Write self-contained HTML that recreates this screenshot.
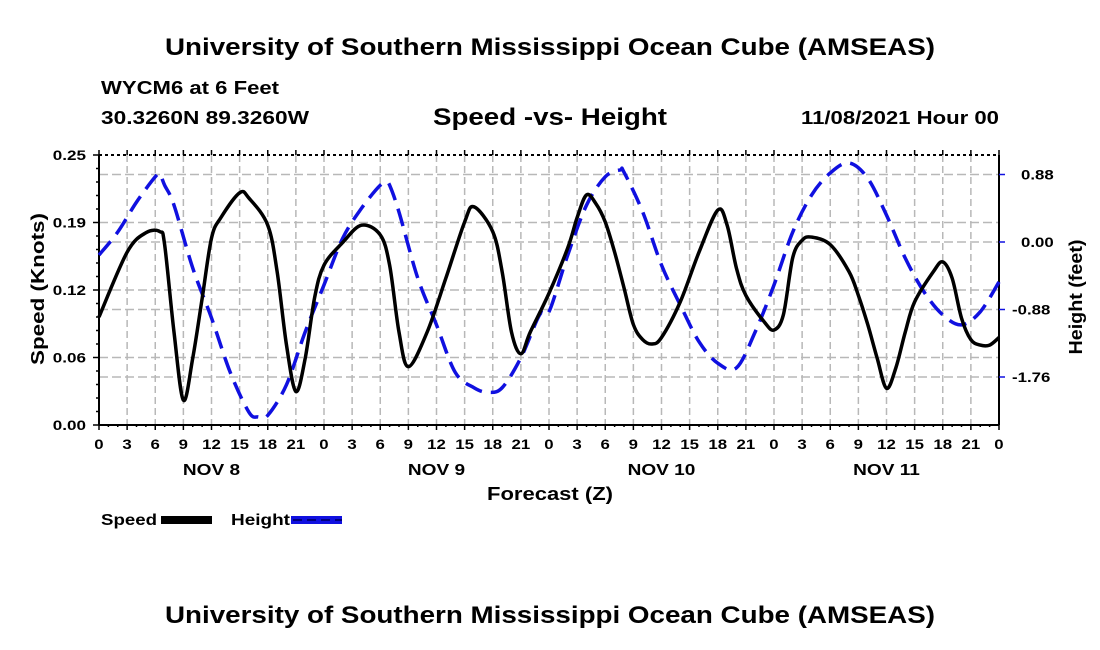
<!DOCTYPE html>
<html><head><meta charset="utf-8"><style>
body{margin:0;background:#fff}
svg{display:block;font-family:"Liberation Sans",Arial,sans-serif;font-weight:bold}
</style></head><body>
<svg id="chart" width="1100" height="650" viewBox="0 0 1100 650">
<text x="550" y="55" text-anchor="middle" font-size="24" textLength="770" lengthAdjust="spacingAndGlyphs">University of Southern Mississippi Ocean Cube (AMSEAS)</text>
<text x="101" y="94" font-size="18" textLength="178" lengthAdjust="spacingAndGlyphs">WYCM6 at 6 Feet</text>
<text x="101" y="124" font-size="18" textLength="208" lengthAdjust="spacingAndGlyphs">30.3260N  89.3260W</text>
<text x="550" y="125" text-anchor="middle" font-size="24" textLength="234" lengthAdjust="spacingAndGlyphs">Speed -vs- Height</text>
<text x="999" y="124" text-anchor="end" font-size="18" textLength="198" lengthAdjust="spacingAndGlyphs">11/08/2021 Hour 00</text>
<g id="grid"></g>
<g id="axes"></g>
<g id="series"></g>
<text x="550" y="500" text-anchor="middle" font-size="18" textLength="126" lengthAdjust="spacingAndGlyphs">Forecast (Z)</text>
<text transform="translate(44,289) rotate(-90)" text-anchor="middle" font-size="18" textLength="152" lengthAdjust="spacingAndGlyphs">Speed (Knots)</text>
<text transform="translate(1082,297) rotate(-90)" text-anchor="middle" font-size="18" textLength="115" lengthAdjust="spacingAndGlyphs">Height (feet)</text>
<g>
<text x="101" y="525" font-size="16" textLength="56" lengthAdjust="spacingAndGlyphs">Speed</text>
<rect x="161" y="516" width="51" height="8" fill="#000"/>
<text x="231" y="525" font-size="16" textLength="59" lengthAdjust="spacingAndGlyphs">Height</text>
<rect x="291" y="516" width="51" height="8" fill="#1010e0"/>
<line x1="293" y1="520" x2="342" y2="520" stroke="#000080" stroke-width="2" stroke-dasharray="9,5"/>
</g>
<text x="550" y="623" text-anchor="middle" font-size="24" textLength="770" lengthAdjust="spacingAndGlyphs">University of Southern Mississippi Ocean Cube (AMSEAS)</text>
</svg>
<script>
const speedHours=[0,3,5,6.5,7,8,9,10,11,12,13,15,16,18,19,20,21,22,23,24,26,28,30,31,32,33,35,37,39,40,42,43,44,45,46,48,50,51,52,53,54,55,56,57,58,59,60,62,64,66,67,68,69,71,72,73,74,75,76,78,80,81,82,83,84,85,86,87,89,90,91,92,93,94,95,96];
const speedValues=[0.100,0.160,0.178,0.179,0.167,0.086,0.023,0.062,0.117,0.173,0.192,0.215,0.210,0.185,0.142,0.074,0.031,0.062,0.118,0.148,0.169,0.185,0.176,0.148,0.086,0.054,0.086,0.136,0.188,0.202,0.179,0.142,0.086,0.066,0.086,0.122,0.164,0.192,0.213,0.205,0.188,0.160,0.127,0.093,0.079,0.075,0.081,0.114,0.160,0.199,0.185,0.145,0.120,0.095,0.088,0.102,0.155,0.171,0.174,0.167,0.142,0.120,0.093,0.062,0.034,0.053,0.086,0.114,0.142,0.151,0.136,0.099,0.079,0.074,0.074,0.081];
const heightHours=[0,2,4,6,6.5,7,8,10,12,14,16,17,18,20,22,24,26,28,30,30.7,31,32,34,36,38,40,41.5,43,45,47,48,50,52,54,55.6,56,58,60,62,64,66,68,70,72,74,76,78,80,82,84,86,88,90,92,94,96];
const heightValues=[-0.17,0.13,0.52,0.85,0.88,0.74,0.48,-0.34,-0.99,-1.70,-2.22,-2.28,-2.26,-1.86,-1.17,-0.56,0.05,0.44,0.74,0.76,0.74,0.39,-0.47,-1.08,-1.70,-1.90,-1.96,-1.90,-1.51,-0.95,-0.91,-0.17,0.48,0.85,0.94,0.91,0.39,-0.30,-0.82,-1.30,-1.58,-1.64,-1.17,-0.56,0.13,0.61,0.90,1.03,0.83,0.35,-0.21,-0.65,-0.95,-1.08,-0.91,-0.52];
const xTickLabels=["0","3","6","9","12","15","18","21","0","3","6","9","12","15","18","21","0","3","6","9","12","15","18","21","0","3","6","9","12","15","18","21","0"];
const dayLabels=["NOV 8","NOV 9","NOV 10","NOV 11"];
const speedTicks=[0,0.0625,0.125,0.1875,0.25];
const speedTickLabels=["0.00","0.06","0.12","0.19","0.25"];
const heightTicks=[0.88,0,-0.88,-1.76];
const heightTickLabels=["0.88","0.00","-0.88","-1.76"];

const L=99,R=999,T=155,B=425;
const xs=h=>L+(R-L)*h/96;
const ys=v=>B-(B-T)*v/0.25;
const yh=f=>242-f*67.5/0.88;
const NS="http://www.w3.org/2000/svg";
function mk(parent,tag,attrs){const e=document.createElementNS(NS,tag);for(const k in attrs)e.setAttribute(k,attrs[k]);parent.appendChild(e);return e;}
function stretch(e,f){const w=e.getComputedTextLength();e.setAttribute('textLength',w*f);e.setAttribute('lengthAdjust','spacingAndGlyphs');}
const grid=document.getElementById('grid'),axes=document.getElementById('axes'),series=document.getElementById('series');

for(let i=1;i<xTickLabels.length-1;i++){
  const g=mk(grid,'line',{x1:xs(i*3),x2:xs(i*3),y1:T,y2:B,stroke:'#b8b8b8','stroke-width':1.5,'stroke-dasharray':'7,4'});
  
  
}
speedTicks.slice(1,-1).forEach(v=>{
  const g=mk(grid,'line',{x1:L,x2:R,y1:ys(v),y2:ys(v),stroke:'#b8b8b8','stroke-width':1.5,'stroke-dasharray':'9,4'});
  
  
});
heightTicks.forEach(v=>{
  const g=mk(grid,'line',{x1:L,x2:R,y1:yh(v),y2:yh(v),stroke:'#b8b8b8','stroke-width':1.5,'stroke-dasharray':'9,4'});
  
  
});

mk(axes,'line',{x1:L,x2:L,y1:T,y2:B,stroke:'#000','stroke-width':2});
mk(axes,'line',{x1:R,x2:R,y1:T,y2:B,stroke:'#000','stroke-width':2});
mk(axes,'line',{x1:L,x2:R,y1:B,y2:B,stroke:'#000','stroke-width':2});
mk(axes,'line',{x1:L,x2:R,y1:T,y2:T,stroke:'#000','stroke-width':2,'stroke-dasharray':'3,3'});
for(let h=0;h<=96;h++){
  const major=h%3===0;
  mk(axes,'line',{x1:xs(h),x2:xs(h),y1:B,y2:B+(major?5:2),stroke:'#000','stroke-width':1.5});
  if(major)mk(axes,'line',{x1:xs(h),x2:xs(h),y1:T-5,y2:T,stroke:'#000','stroke-width':1.5});
}
xTickLabels.forEach((t,i)=>{
  const e=mk(axes,'text',{x:xs(i*3),y:449,'text-anchor':'middle','font-size':14});e.textContent=t;
  
  
  stretch(e,1.2);
});
dayLabels.forEach((t,i)=>{
  const e=mk(axes,'text',{x:xs(12+24*i),y:475,'text-anchor':'middle','font-size':16});e.textContent=t;
  
  
  stretch(e,1.19);
});
for(let k=0;k<=20;k++){const v=k*0.0125;mk(axes,'line',{x1:L-(k%5===0?6:3),x2:L,y1:ys(v),y2:ys(v),stroke:'#000','stroke-width':1.5});}
speedTicks.forEach((v,i)=>{
  const e=mk(axes,'text',{x:L-13,y:ys(v)+5,'text-anchor':'end','font-size':14});e.textContent=speedTickLabels[i];
  
  
  stretch(e,1.22);
});
heightTicks.forEach((v,i)=>{
  mk(axes,'line',{x1:R,x2:R+6,y1:yh(v),y2:yh(v),stroke:'#1010e0','stroke-width':1.5});
  const e=mk(axes,'text',{x:R+(v<0?13:22),y:yh(v)+5,'font-size':14});e.textContent=heightTickLabels[i];
  
  
  stretch(e,1.2);
});

function smoothPath(hs,vs,yf){
  const p=hs.map((h,i)=>[xs(h),yf(vs[i])]);
  let d='M'+p[0][0]+','+p[0][1];
  for(let i=0;i<p.length-1;i++){
    const p0=p[i-1]||p[i],p1=p[i],p2=p[i+1],p3=p[i+2]||p2;
    const c1=[p1[0]+(p2[0]-p0[0])/6,p1[1]+(p2[1]-p0[1])/6];
    const c2=[p2[0]-(p3[0]-p1[0])/6,p2[1]-(p3[1]-p1[1])/6];
    d+=` C${c1[0]},${c1[1]} ${c2[0]},${c2[1]} ${p2[0]},${p2[1]}`;
  }
  return d;
}
const hp=mk(series,'path',{d:smoothPath(heightHours,heightValues,yh),fill:'none',stroke:'#1010e0','stroke-width':3.5,'stroke-dasharray':'18,9'});


const sp=mk(series,'path',{d:smoothPath(speedHours,speedValues,ys),fill:'none',stroke:'#000','stroke-width':3.5,'stroke-linejoin':'round'});


</script>
</body></html>
